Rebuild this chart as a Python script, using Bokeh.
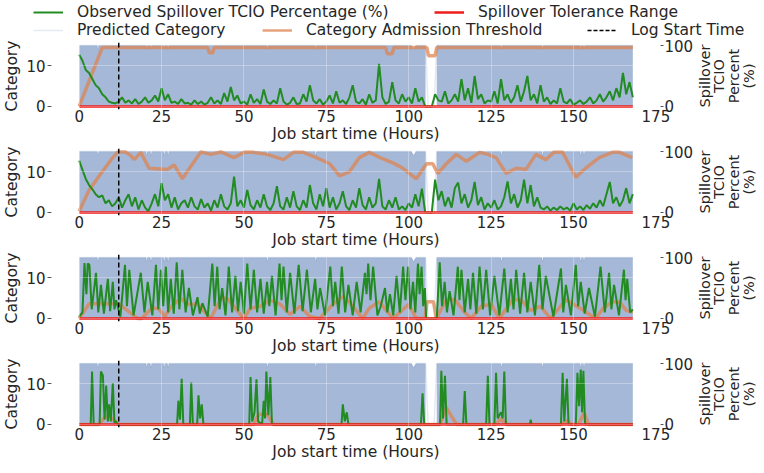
import math
import numpy as np
from bokeh.plotting import figure
from bokeh.models import Range1d, LinearAxis, FixedTicker, Span, Legend, LegendItem
from bokeh.layouts import column, row
from bokeh.embed import file_html
from bokeh.resources import INLINE
from bokeh.core.properties import value

FONT = "DejaVu Sans"

# ---------------- data ----------------
x_ticks = [0, 25, 50, 75, 100, 125, 150, 175]
cat_ticks = [0, 10]
pct_ticks = [0, 100]
log_start = 12
tolerance = 0
hours = list(range(169))
right_label_lines = ["Spillover", "TCIO", "Percent", "(%)"]

# Observed spillover TCIO percentage (%) - subplot 1 (hourly)
green1 = [85, 75, 60, 55, 45, 35, 30, 20, 15, 8,
          6, 5, 8, 15, 6, 10, 5, 12, 4, 8,
          15, 6, 10, 18, 8, 30, 10, 20, 6, 8,
          4, 12, 5, 6, 3, 10, 4, 8, 3, 6,
          15, 5, 10, 4, 22, 8, 32, 10, 18, 5,
          8, 3, 20, 6, 12, 4, 28, 8, 4, 10,
          5, 30, 8, 3, 6, 15, 4, 5, 20, 8,
          35, 10, 5, 12, 3, 8, 18, 5, 25, 6,
          10, 4, 15, 35, 8, 5, 12, 3, 20, 6,
          10, 70, 15, 4, 8, 40, 10, 5, 20, 8,
          15, 5, 30, 8, 15, 0, 0, 0, 20, 10,
          8, 25, 5, 10, 20, 8, 45, 10, 30, 6,
          50, 12, 20, 5, 10, 8, 25, 5, 45, 10,
          20, 6, 15, 35, 8, 25, 50, 10, 20, 5,
          35, 8, 15, 4, 10, 5, 30, 8, 5, 12,
          3, 6, 10, 4, 8, 15, 5, 10, 20, 8,
          15, 25, 10, 30, 15, 55, 20, 40, 15]

# subplot 2 (hourly)
green2 = [85, 70, 55, 45, 38, 30, 25, 28, 15, 20,
          10, 15, 25, 8, 20, 30, 10, 25, 5, 20,
          8, 2, 15, 30, 10, 48, 20, 30, 8, 25,
          5, 15, 20, 8, 25, 10, 5, 22, 8, 15,
          3, 20, 8, 30, 10, 5, 15, 59, 10, 20,
          8, 37, 12, 5, 20, 8, 30, 10, 4, 15,
          43, 10, 5, 25, 8, 35, 10, 4, 20, 8,
          45, 15, 5, 30, 10, 40, 8, 25, 5, 15,
          35, 10, 4, 20, 8, 40, 12, 5, 25, 8,
          15, 55, 10, 5, 20, 8, 25, 5, 10, 4,
          15, 8, 30, 10, 39, 0, 0, 0, 54, 20,
          35, 10, 25, 8, 40, 49, 15, 30, 8, 20,
          50, 12, 25, 5, 15, 8, 20, 5, 10, 25,
          51, 15, 30, 8, 20, 54, 15, 45, 10, 25,
          8, 5, 10, 3, 8, 4, 10, 5, 8, 3,
          15, 5, 10, 4, 12, 6, 15, 8, 20, 10,
          30, 50, 15, 25, 10, 20, 40, 15, 30]

# subplot 3 (hour, percent)
green3 = [(0, 3), (1, 10), (1.6, 91), (2.2, 40), (2.6, 90), (3.1, 88), (3.8, 15), (5.1, 75),
          (5.8, 10), (6.6, 55), (7.5, 8), (8.7, 65), (9.4, 12), (10.2, 60), (10.7, 15),
          (11.2, 30), (12.5, 3), (13.9, 88), (14.5, 20), (15.2, 80), (16.5, 5), (18.7, 75),
          (19.8, 10), (20.8, 60), (22.2, 5), (23.3, 88), (24, 15), (24.8, 80), (25.5, 20),
          (26.3, 85), (27, 10), (27.8, 65), (28.7, 8), (29.6, 92), (30.4, 15), (31.3, 80),
          (32.3, 10), (33.3, 50), (34.5, 5), (35.9, 35), (36.6, 8), (37.4, 25), (39, 3),
          (40.4, 90), (41.1, 20), (41.9, 85), (42.6, 15), (43.4, 50), (44.4, 5), (45.4, 85),
          (46.4, 10), (47.4, 70), (48.2, 12), (49, 60), (50, 8), (51, 90), (52, 15), (53, 80),
          (54, 10), (55, 65), (56, 8), (57, 60), (57.7, 20), (58.5, 70), (59.6, 5), (60.8, 90),
          (61.4, 30), (62, 85), (63, 10), (64, 75), (65.3, 8), (66.6, 88), (67.8, 12),
          (69.1, 80), (70.3, 10), (71.6, 65), (72.3, 15), (73.1, 50), (74.6, 5), (76.2, 85),
          (77, 20), (77.7, 60), (78.7, 8), (79.7, 85), (80.7, 10), (81.7, 55), (83, 5),
          (84.2, 60), (85.4, 10), (86.7, 75), (87.2, 40), (87.7, 90), (88.4, 30), (89.2, 85),
          (90.5, 5), (91.5, 20), (92.8, 50), (93.5, 10), (94.3, 40), (95.3, 5), (96.3, 70),
          (97.3, 10), (98.3, 85), (99, 30), (99.8, 85), (100.5, 15), (101.3, 60), (102, 10),
          (102.8, 90), (103.3, 40), (103.9, 85), (104.4, 20), (104.9, 50), (105.3, 0),
          (108.5, 0), (109.4, 92), (110.1, 20), (110.9, 60), (111.6, 10), (112.4, 45),
          (113.6, 5), (114.9, 85), (115.4, 30), (116, 80), (117, 10), (118, 65), (118.7, 15),
          (119.5, 75), (120.5, 8), (121.5, 85), (122.5, 15), (123.5, 80), (124.7, 5), (126, 70),
          (127.5, 5), (129, 82), (130, 10), (131, 65), (131.8, 15), (132.6, 80), (133.8, 8),
          (135, 75), (136, 10), (137, 60), (138.3, 5), (139.6, 88), (140.6, 15), (141.6, 70),
          (143.9, 3), (146.2, 82), (146.9, 10), (147.7, 55), (149.2, 5), (150.7, 88),
          (151.4, 20), (152.2, 60), (153.4, 8), (154.7, 50), (156.5, 3), (158.2, 85),
          (159.5, 10), (160.8, 75), (161.5, 15), (162.3, 55), (163.8, 5), (165.3, 80),
          (165.8, 30), (166.3, 65), (167.2, 10), (168, 15)]

# subplot 4 (hour, percent)
green4 = [(0, 0), (3.5, 0), (3.9, 87), (4.4, 0), (6.2, 0), (6.6, 87), (7.2, 80), (7.7, 8),
          (8.2, 64), (8.7, 5), (9.1, 33), (9.6, 5), (10.2, 68), (10.7, 3), (11.2, 5), (11.6, 0),
          (29.7, 0), (30.1, 39), (30.6, 8), (31.1, 75), (31.6, 0), (33.6, 0), (34, 69), (34.5, 0),
          (35.8, 0), (36.2, 48), (36.7, 10), (37.2, 33), (37.7, 0), (51.6, 0), (52, 78),
          (52.5, 5), (53.2, 20), (53.8, 74), (54.3, 5), (55.5, 0), (56, 39), (56.4, 10),
          (56.8, 87), (57.4, 15), (58, 78), (58.5, 0), (79.6, 0), (80, 33), (80.6, 5),
          (81.2, 20), (81.7, 0), (103.7, 0), (104.2, 51), (104.7, 0), (109.5, 0), (109.9, 88),
          (110.4, 10), (111, 80), (111.5, 0), (116.5, 0), (117, 55), (117.5, 0), (123.5, 0),
          (124, 80), (124.5, 0), (126, 0), (126.5, 85), (127, 10), (127.5, 15), (128, 20),
          (128.5, 10), (129, 87), (129.5, 0), (136.8, 0), (137, 8), (137.3, 0), (146.2, 0),
          (146.7, 85), (147.2, 5), (148, 75), (148.5, 0), (150.7, 0), (151.2, 85), (151.7, 30),
          (152.2, 90), (152.6, 20), (153, 88), (153.5, 0), (168, 0)]

# Category admission threshold (hour, category)
thr1 = [(0, 0), (7, 14.5), (39, 14.5), (39.5, 13.2), (40.5, 13.2), (41, 14.5), (93, 14.5),
        (93.5, 13), (95, 13), (95.5, 14.5), (105.5, 14.5), (106, 12.5), (108, 12.5),
        (108.5, 14.5), (168, 14.5)]
thr2 = [(0, 0.3), (3, 5.5), (6.6, 9.6), (9.7, 13), (11.7, 14.9), (14, 14.9), (15.7, 14),
        (16.7, 13), (18.7, 14.8), (21.2, 10.9), (26.8, 10.6), (28.8, 11.7), (31.3, 8.3),
        (32.9, 10.2), (36.9, 14.9), (40, 14.3), (43, 14.9), (46.9, 13.5), (50, 14.8),
        (53, 14.8), (57, 14.3), (62, 13), (65, 14.8), (68, 14.8), (72, 13.5), (76, 12),
        (79, 9), (82, 10), (85, 13.5), (88, 14.8), (91.3, 13.5), (95.2, 12.2), (98, 11),
        (102.3, 8.3), (105.4, 12), (107.3, 12), (108.8, 9.6), (111.4, 12), (114.4, 14.3),
        (117.5, 12.6), (121.5, 14.8), (124, 14.3), (126.5, 13.5), (129.6, 9.6), (132.6, 10.9),
        (135.6, 10.6), (138.6, 14.3), (141.6, 13), (144, 14.8), (146.7, 14.8), (150.7, 8.7),
        (153.7, 10.9), (157.8, 13.5), (161.8, 14.8), (164, 14.8), (167.8, 13.5)]
thr3 = [(0, 0), (3, 3.6), (12, 3.6), (17.7, 0), (19, 0), (22, 2.5), (24, 2.5), (26, 0.5),
        (28, 3), (30.8, 4.9), (33, 3.5), (36, 3.5), (39.9, 0), (43, 4.9), (45, 4.9), (49.9, 0),
        (52, 2.5), (55, 3), (58, 4.5), (61, 3.5), (64, 1), (67, 3), (70, 0.5), (73, 0),
        (77, 3.5), (80, 5.4), (82, 4), (86, 0), (88, 2.5), (91, 4.1), (95.2, 0), (98, 2),
        (100, 3.5), (102.3, 0), (105, 0), (105.5, 4.1), (107.5, 4.1), (108.4, 0), (111.4, 4.6),
        (114, 4.6), (117, 1.5), (119, 0), (122, 3), (125, 3.5), (127.5, 0), (131.5, 4.6),
        (134, 4.6), (137, 2), (140, 3), (143, 0), (147.7, 4.6), (150, 3.5), (153, 2),
        (156.7, 0), (159, 2.5), (161.7, 4.1), (164, 4), (166, 2), (168, 1.5)]
thr4 = [(0, 0), (6, 0), (8, 2), (10, 1.5), (12, 0), (53, 0), (54.5, 2.5), (57, 2.5), (59, 0),
        (109.5, 0), (111.4, 4.2), (113, 2), (114.5, 0), (126.5, 0), (128, 1.5), (129.5, 0),
        (146.5, 0), (148, 1), (149.5, 0), (151.5, 0), (153.2, 2.9), (154.5, 0), (168, 0)]

# Predicted category (hour, category)
pred = [(0, 15), (5.5, 15), (5.7, 14), (5.9, 15), (20.3, 15), (20.5, 14), (20.7, 15),
        (21.6, 15), (21.8, 14), (22, 15), (25.6, 15), (25.8, 14), (26, 15), (26.8, 15),
        (27, 14), (27.2, 15), (56.9, 15), (57.1, 14), (57.3, 15), (71.6, 15), (71.8, 14),
        (72, 15), (100.8, 15), (101.5, 14), (102.2, 15), (105.1, 15), (105.9, 0), (107.7, 0),
        (108.5, 15), (127.9, 15), (128.1, 14), (128.3, 15), (140.4, 15), (140.6, 14),
        (140.8, 15), (152, 15), (152.2, 14), (152.4, 15), (153, 15), (153.2, 14), (153.4, 15),
        (168, 15)]

# ---------------- styles / layout ----------------
BLUE = "#4c72b0"
GREEN = "#228b22"
ORANGE = "#dd8452"
RED = "#ee1c1c"
TXT = "#262626"

TOTAL_W = 756
MAIN_W = 696
LAB_W = TOTAL_W - MAIN_W
PANEL_H = 106
TOP_B = 3
LEG_H = 39
CAT_RANGE = (-0.75, 15.75)


def split(pairs):
    return [a for a, b in pairs], [b for a, b in pairs]


def style_axis(ax, tick_out=4):
    ax.axis_line_color = None
    ax.major_tick_out = tick_out
    ax.major_tick_in = 0
    ax.major_tick_line_color = "#555555"
    ax.minor_tick_line_color = None
    ax.major_label_text_font = FONT
    ax.major_label_text_font_size = "15px"
    ax.major_label_text_color = TXT
    ax.axis_label_text_font = FONT
    ax.axis_label_text_font_size = "15.5px"
    ax.axis_label_text_font_style = "normal"
    ax.axis_label_text_color = TXT


def make_panel(g_t, g_v, thr_pairs):
    p = figure(width=MAIN_W, height=PANEL_H, output_backend="svg", toolbar_location=None,
               title=None,
               x_range=Range1d(-8.4, 176.4), y_range=Range1d(*CAT_RANGE),
               min_border_top=TOP_B, min_border_bottom=0,
               min_border_left=0, min_border_right=0)
    p.outline_line_color = None
    p.background_fill_color = "white"
    p.border_fill_color = "white"
    p.extra_y_ranges = {"pct": Range1d(-5, 105)}

    p.xaxis.ticker = FixedTicker(ticks=x_ticks)
    p.xaxis.axis_label = "Job start time (Hours)"
    p.xaxis.major_label_standoff = 0
    p.xaxis.axis_label_standoff = 0
    p.yaxis.ticker = FixedTicker(ticks=cat_ticks)
    p.yaxis.axis_label = "Category"
    p.yaxis.major_label_standoff = 2
    p.yaxis.axis_label_standoff = 2
    style_axis(p.xaxis[0], tick_out=0)
    style_axis(p.yaxis[0])

    ra = LinearAxis(y_range_name="pct", ticker=FixedTicker(ticks=pct_ticks))
    style_axis(ra, tick_out=3)
    ra.major_label_standoff = 1
    p.add_layout(ra, "right")

    for g in (p.xgrid[0], p.ygrid[0]):
        g.grid_line_color = "white"
        g.grid_line_alpha = 0.3
        g.level = "overlay"

    # predicted category fill (broken where the prediction drops to 0)
    pt, pv = split(pred)
    pt = np.array(pt, dtype=float)
    pv = np.array(pv, dtype=float)
    pos = pv > 0
    start = None
    runs = []
    for i, ok in enumerate(pos):
        if ok and start is None:
            start = i
        if (not ok) and start is not None:
            runs.append((start, i))
            start = None
    if start is not None:
        runs.append((start, len(pv)))
    for s, e in runs:
        p.varea(x=pt[s:e], y1=0, y2=pv[s:e], fill_color=BLUE, fill_alpha=0.5)
    p.line(pt, pv, line_color=BLUE, line_alpha=0.15, line_width=1.5)

    tt, tv = split(thr_pairs)
    p.line(tt, tv, line_color=ORANGE, line_alpha=0.75, line_width=3.5)

    p.line(g_t, g_v, line_color=GREEN, line_width=2, y_range_name="pct")
    p.line([g_t[0], g_t[-1]], [tolerance, tolerance], line_color=RED, line_width=2.5,
           y_range_name="pct")

    p.add_layout(Span(location=log_start, dimension="height", line_color="black",
                      line_dash="5 3", line_width=1.5))
    return p


def make_right_label():
    # this figure's frame is aligned with the neighbouring panel's frame
    f = figure(width=LAB_W, height=PANEL_H, output_backend="svg", toolbar_location=None,
               title=None,
               x_range=Range1d(0, LAB_W), y_range=Range1d(*CAT_RANGE),
               min_border=0, min_border_top=0, min_border_bottom=0,
               min_border_left=0, min_border_right=0,
               x_axis_type=None, y_axis_type=None)
    f.outline_line_color = None
    f.border_fill_color = "white"
    f.background_fill_color = "white"
    y_mid = (CAT_RANGE[0] + CAT_RANGE[1]) / 2.0
    xs = [8 + 14.7 * i for i in range(len(right_label_lines))]
    f.text(x=xs, y=[y_mid] * len(xs), text=right_label_lines, angle=math.pi / 2,
           text_align="center", text_baseline="middle",
           text_font=value(FONT), text_font_size="14.5px", text_color=TXT)
    return f


def make_legend_fig():
    f = figure(width=TOTAL_W, height=LEG_H, output_backend="svg", toolbar_location=None,
               title=None,
               x_range=Range1d(0, 1), y_range=Range1d(0, 1),
               min_border=0, min_border_top=0, min_border_bottom=0,
               min_border_left=0, min_border_right=0,
               x_axis_type=None, y_axis_type=None)
    f.outline_line_color = None
    f.border_fill_color = "white"
    f.background_fill_color = "white"
    far = dict(x=[-5], y=[-5])
    r_g = f.line(line_color=GREEN, line_width=2, **far)
    r_r = f.line(line_color=RED, line_width=2.5, **far)
    r_p = f.line(line_color=BLUE, line_alpha=0.15, line_width=1.5, **far)
    r_o = f.line(line_color=ORANGE, line_alpha=0.75, line_width=2.5, **far)
    r_d = f.line(line_color="black", line_dash="4 2", line_width=1.5, **far)
    common = dict(orientation="horizontal", glyph_width=30, glyph_height=18,
                  label_height=18, label_standoff=14, spacing=0, padding=0, margin=0,
                  background_fill_alpha=0, border_line_color=None,
                  label_text_font=FONT, label_text_font_size="15.5px",
                  label_text_color=TXT)
    entries = [("Observed Spillover TCIO Percentage (%)", r_g, 33, LEG_H - 21),
               ("Spillover Tolerance Range", r_r, 434, LEG_H - 21),
               ("Predicted Category", r_p, 33, 0),
               ("Category Admission Threshold", r_o, 262, 0),
               ("Log Start Time", r_d, 587, 0)]
    for label, rend, lx, ly in entries:
        f.add_layout(Legend(items=[LegendItem(label=label, renderers=[rend])],
                            location=(lx, ly), **common))
    return f


t3, v3 = split(green3)
t4, v4 = split(green4)
rows = []
for gt, gv, th in [(hours, green1, thr1), (hours, green2, thr2), (t3, v3, thr3), (t4, v4, thr4)]:
    rows.append(row(make_panel(gt, gv, th), make_right_label(), spacing=0))

layout = column(make_legend_fig(), *rows, spacing=0)
open("out.html", "w").write(file_html(layout, INLINE))
